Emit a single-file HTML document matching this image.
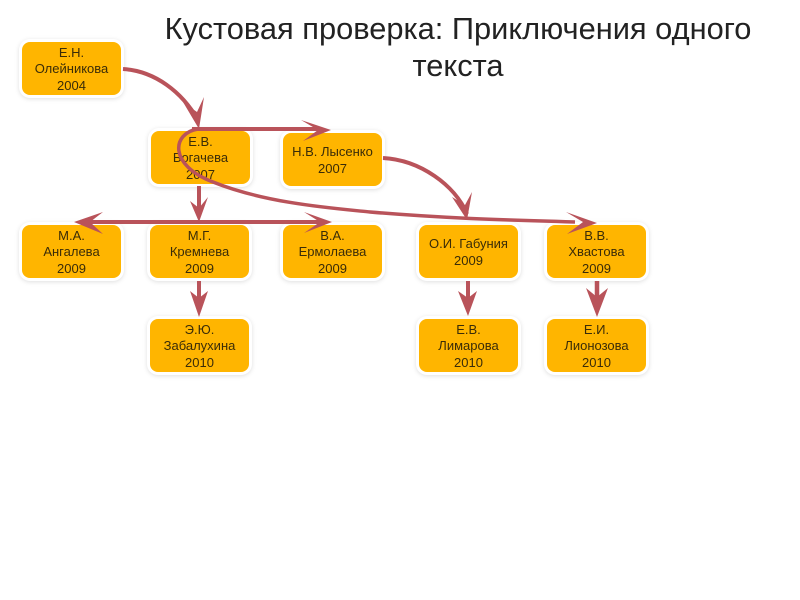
<!DOCTYPE html>
<html><head><meta charset="utf-8"><style>
html,body{margin:0;padding:0;background:#fff}
#p{position:relative;width:800px;height:600px;overflow:hidden;font-family:"Liberation Sans",sans-serif;filter:blur(.35px)}
#t{position:absolute;left:58px;width:800px;top:10px;text-align:center;font-size:30.8px;line-height:37px;color:#222}
.n{position:absolute;width:99px;height:53px;box-sizing:border-box;padding-top:2px;background:#ffb500;border-radius:8px;box-shadow:0 0 0 3px #fff,0 1px 5px 3px rgba(0,0,0,.13);font-size:13px;line-height:16.3px;color:#3a2c08;text-align:center;display:flex;align-items:center;justify-content:center;white-space:nowrap}
svg{position:absolute;left:0;top:0}
</style></head><body><div id="p">
<div id="t">Кустовая проверка: Приключения одного<br>текста</div>
<div class="n" style="left:22px;top:42px">Е.Н.<br>Олейникова<br>2004</div>
<div class="n" style="left:151px;top:131px">Е.В.<br>Богачева<br>2007</div>
<div class="n" style="left:283px;top:133px">Н.В. Лысенко<br>2007</div>
<div class="n" style="left:22px;top:225px">М.А.<br>Ангалева<br>2009</div>
<div class="n" style="left:150px;top:225px">М.Г.<br>Кремнева<br>2009</div>
<div class="n" style="left:283px;top:225px">В.А.<br>Ермолаева<br>2009</div>
<div class="n" style="left:419px;top:225px">О.И. Габуния<br>2009</div>
<div class="n" style="left:547px;top:225px">В.В.<br>Хвастова<br>2009</div>
<div class="n" style="left:150px;top:319px">Э.Ю.<br>Забалухина<br>2010</div>
<div class="n" style="left:419px;top:319px">Е.В.<br>Лимарова<br>2010</div>
<div class="n" style="left:547px;top:319px">Е.И.<br>Лионозова<br>2010</div>
<svg width="800" height="600" viewBox="0 0 800 600" fill="none" stroke="#b9535a" stroke-width="4" stroke-linecap="butt">
<path d="M123 69C155 71 182 92 198 120"/>
<path d="M192 129H322"/>
<path d="M198 129C172 133 168 165 213 182C265 203 330 208 370 212C440 218 500 220 575 222" stroke-width="3.5"/>
<path d="M383 158C420 160 455 185 467 214"/>
<path d="M199 186V214"/>
<path d="M90 222H320"/>
<path d="M199 281V310"/>
<path d="M468 281V310"/>
<path d="M597 281V310" stroke-width="4.5"/>
<g fill="#b9535a" stroke="none">
<polygon points="199,129 183,102 197,112 204,97"/>
<polygon points="331,130 301,120 318,130 303,141"/>
<polygon points="199,222 190,201 199,208 208,197"/>
<polygon points="332,222 304,212 320,222 304,233"/>
<polygon points="74,222 103,212 90,222 103,234"/>
<polygon points="467,220 452,197 465,205 472,192"/>
<polygon points="597,223 566,212 583,222 567,234"/>
<polygon points="199,317 190,291 199,298 208,291"/>
<polygon points="468,316 458,291 468,298 477,291"/>
<polygon points="597,317 586,288 597,297 608,288"/>
</g>
</svg>
</div></body></html>
